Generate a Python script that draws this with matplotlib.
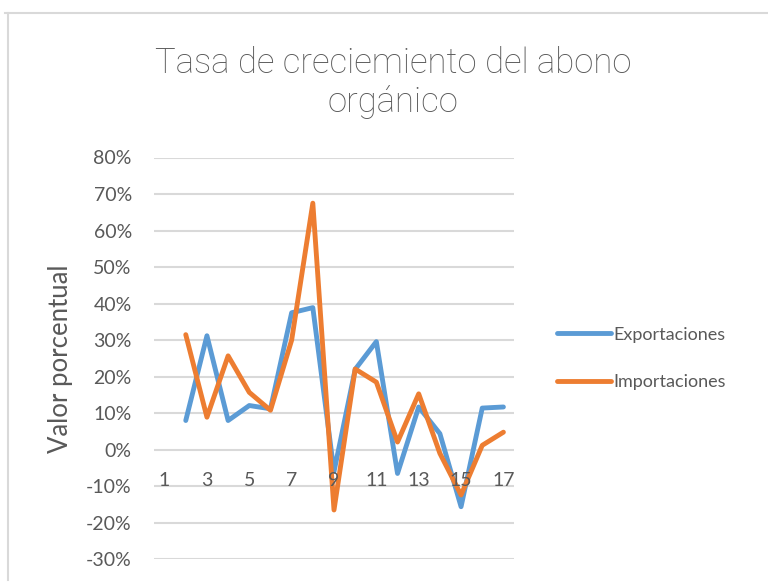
import matplotlib
matplotlib.use("Agg")
import matplotlib.pyplot as plt
from matplotlib.lines import Line2D
from matplotlib.ticker import PercentFormatter

plt.rcParams['font.family'] = ['Lato', 'DejaVu Sans']
plt.rcParams['axes.unicode_minus'] = False

periods = list(range(2, 18))
exportaciones = [0.080, 0.312, 0.080, 0.121, 0.112, 0.375, 0.389, -0.060, 0.220,
                 0.296, -0.065, 0.117, 0.044, -0.156, 0.114, 0.117]
importaciones = [0.315, 0.089, 0.257, 0.157, 0.108, 0.300, 0.675, -0.165, 0.221,
                 0.185, 0.021, 0.153, -0.010, -0.124, 0.012, 0.048]
xtick_vals = list(range(1, 18, 2))
ytick_vals = [-0.3, -0.2, -0.1, 0.0, 0.1, 0.2, 0.3, 0.4, 0.5, 0.6, 0.7, 0.8]

W, H = 768, 583
fig = plt.figure(figsize=(W / 100, H / 100), dpi=100)
ax = fig.add_axes([154 / W, 1 - 559.3 / H, 360 / W, (559.3 - 157.5) / H])

blue = '#5B9BD5'
orange = '#ED7D31'
for yv in ytick_vals:
    ax.axhline(yv, color='#D9D9D9', lw=1.5, zorder=1)
ax.plot(periods, exportaciones, color=blue, lw=3.5, solid_joinstyle='round',
        solid_capstyle='round', label='Exportaciones', zorder=2)
ax.plot(periods, importaciones, color=orange, lw=3.5, solid_joinstyle='round',
        solid_capstyle='round', label='Importaciones', zorder=2.1)

ax.set_xlim(0.5, 17.5)
ax.set_ylim(-0.30, 0.80)
ax.set_yticks(ytick_vals)
ax.yaxis.set_major_formatter(PercentFormatter(1.0, decimals=0))
ax.set_xticks(xtick_vals)
ax.set_xticklabels([str(v) for v in xtick_vals])
ax.set_axisbelow(False)
for s in ax.spines.values():
    s.set_visible(False)
ax.spines['bottom'].set_position(('data', 0))
ax.tick_params(axis='y', length=0, pad=16, labelsize=14, labelcolor='#595959')
ax.tick_params(axis='x', length=0, pad=16, labelsize=14, labelcolor='#595959')
ax.set_ylabel('Valor porcentual', fontsize=18.5, color='#595959')
ax.yaxis.set_label_coords(-0.225, 0.5)

fig.text(393 / W, 1 - 82.5 / H, 'Tasa de creciemiento del abono\norgánico',
         ha='center', va='center', fontsize=25, family=['Roboto', 'DejaVu Sans'],
         fontweight='light', color='#595959', linespacing=1.2)

fig.legend(handles=[Line2D([], [], color=blue, lw=3.5, solid_capstyle='round'),
                    Line2D([], [], color=orange, lw=3.5, solid_capstyle='round')],
           labels=['Exportaciones', 'Importaciones'],
           loc='center left', bbox_to_anchor=(541 / W, 1 - 358.5 / H),
           frameon=False, fontsize=13, handlelength=3.0, handletextpad=0.1,
           labelspacing=1.75, labelcolor='#595959')

# chart area border (cropped)
fig.add_artist(Line2D([5 / W, 1.0], [1 - 13 / H, 1 - 13 / H], color='#D9D9D9', lw=1.5))
fig.add_artist(Line2D([8 / W, 8 / W], [1 - 13 / H, 1 - 580 / H], color='#D9D9D9', lw=1.5))

fig.savefig('out.png', dpi=100)
